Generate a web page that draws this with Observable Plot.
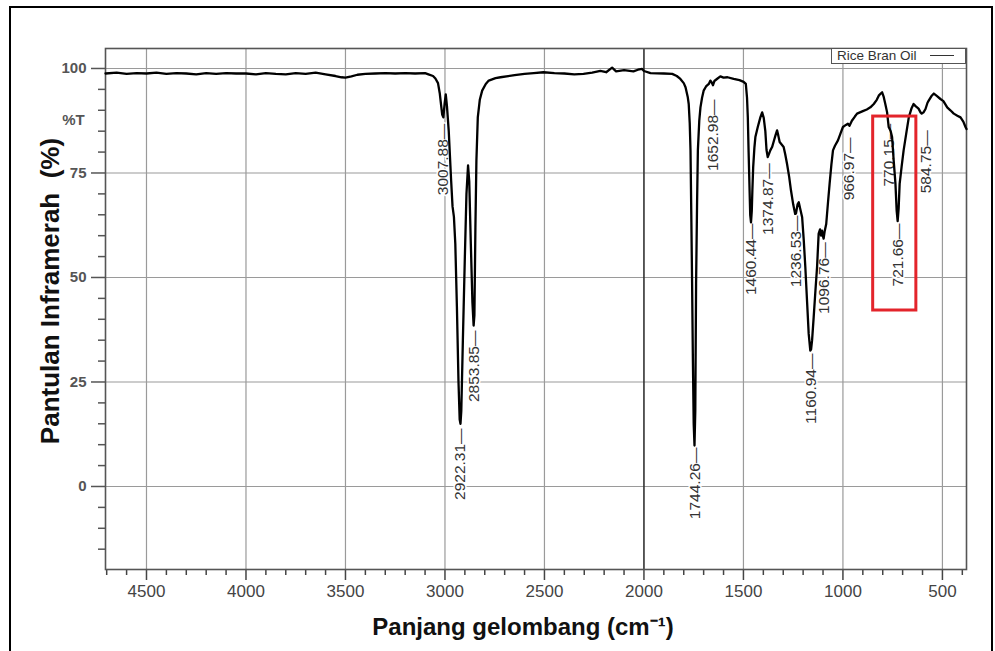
<!DOCTYPE html>
<html>
<head>
<meta charset="utf-8">
<script src="https://cdn.jsdelivr.net/npm/d3@7"></script>
<script src="https://cdn.jsdelivr.net/npm/@observablehq/plot@0.6"></script>
<style>
  body { margin: 0; background: #fff; }
  #wrap { position: relative; width: 995px; height: 651px; overflow: hidden; font-family: "Liberation Sans", Arial, sans-serif; }
  #border { position: absolute; left: 9px; top: 6px; width: 984px; height: 720px; border: 2.5px solid #000; box-sizing: border-box; pointer-events: none; }
  #legend { position: absolute; left: 831px; top: 48px; width: 135px; height: 16px; box-sizing: border-box; border: 1.5px solid #555; background: #fff; }
  #legend span { position: absolute; left: 5px; top: -1px; font-size: 13.5px; color: #333; white-space: nowrap; }
  #legend i { position: absolute; left: 98px; top: 6px; width: 24px; height: 0; border-top: 1.5px solid #333; }
</style>
</head>
<body>
<div id="wrap">
  <div id="chart"></div>
  <div id="legend"><span>Rice Bran Oil</span><i></i></div>
  <div id="border"></div>
</div>
<script>
// ---- Data ----
const wavenumber = [
  4706, 4650, 4600, 4550, 4500, 4450, 4400, 4350, 4300, 4250, 4200, 4150, 4100, 4050, 4000,
  3950, 3900, 3850, 3800, 3750, 3700, 3650, 3600, 3550, 3520, 3500, 3470, 3440, 3400, 3350,
  3300, 3250, 3200, 3150, 3100, 3083, 3060, 3048, 3035, 3026, 3020, 3014, 3008, 3002, 2996,
  2990, 2981, 2969, 2962, 2955, 2948, 2940, 2932, 2926, 2922, 2918, 2910, 2900, 2892, 2884,
  2878, 2870, 2862, 2856, 2852, 2847, 2842, 2835, 2825, 2813, 2795, 2780, 2746, 2721, 2650,
  2600, 2554, 2505, 2450, 2400, 2350, 2304, 2260, 2219, 2190, 2160, 2140, 2100, 2053, 2030,
  2009, 2000, 1967, 1900, 1858, 1835, 1817, 1800, 1791, 1780, 1775, 1770, 1766, 1762, 1758,
  1754, 1750, 1746, 1742, 1738, 1733, 1729, 1722, 1716, 1708, 1700, 1688, 1674, 1666, 1660,
  1653, 1646, 1630, 1616, 1600, 1580, 1549, 1520, 1499, 1488, 1482, 1478, 1474, 1470, 1466,
  1462, 1458, 1455, 1451, 1445, 1440, 1428, 1415, 1406, 1398, 1390, 1384, 1378, 1372, 1365,
  1356, 1345, 1339, 1331, 1325, 1318, 1308, 1298, 1290, 1281, 1270, 1261, 1250, 1240, 1236,
  1228, 1222, 1215, 1205, 1197, 1189, 1180, 1172, 1164, 1160, 1155, 1147, 1138, 1130, 1122,
  1115, 1110, 1105, 1100, 1097, 1092, 1084, 1075, 1067, 1058, 1050, 1040, 1025, 1012, 1000,
  985, 975, 967, 955, 940, 929, 900, 880, 862, 845, 830, 820, 810, 803, 795,
  787, 778, 770, 765, 760, 753, 745, 736, 730, 725, 720, 715, 705, 695, 680,
  669, 655, 645, 635, 620, 610, 604, 595, 585, 575, 569, 555, 543, 530, 510,
  495, 476, 460, 443, 425, 409, 395, 384, 379
];
const transmittance = [
  98.8, 99.0, 98.7, 98.9, 98.8, 99.0, 98.7, 98.9, 98.8, 98.6, 98.9, 98.7, 98.9, 98.8, 98.8,
  98.6, 98.9, 98.7, 98.6, 98.9, 98.7, 99.0, 98.6, 98.2, 97.9, 97.8, 98.1, 98.5, 98.7, 98.8,
  98.9, 98.8, 98.9, 98.8, 98.9, 98.6, 98.2, 97.6, 96.5, 94.0, 91.5, 89.0, 88.3, 91.5, 93.8,
  91.0, 85.0, 73.2, 67.0, 64.5, 58.0, 43.0, 25.0, 16.0, 15.0, 18.0, 35.0, 55.0, 70.0, 76.8,
  73.0, 58.0, 44.0, 38.5, 41.0, 62.0, 78.0, 88.3, 92.5, 94.7, 96.3, 97.1, 97.7, 97.9, 98.4,
  98.7, 98.9, 99.1, 98.9, 98.8, 98.6, 98.7, 99.0, 99.4, 99.1, 100.2, 99.3, 99.6, 99.3, 99.7,
  99.9, 99.4, 98.9, 98.8, 98.7, 98.2, 97.5, 96.5, 95.5, 93.2, 91.5, 87.0, 80.4, 65.0, 48.5,
  30.0, 15.0, 9.8, 18.0, 48.5, 68.0, 80.4, 87.5, 90.7, 93.0, 94.7, 95.7, 96.3, 97.1, 96.7,
  96.0, 97.0, 97.6, 98.1, 97.8, 97.9, 97.5, 97.2, 96.8, 96.3, 93.0, 88.3, 80.0, 72.5, 65.0,
  63.2, 66.0, 71.0, 76.4, 81.0, 83.6, 86.0, 88.3, 89.5, 88.2, 85.0, 80.5, 78.8, 79.5, 80.4,
  81.2, 83.0, 84.0, 85.2, 84.0, 82.4, 81.8, 81.2, 79.5, 77.2, 74.0, 70.8, 67.5, 65.2, 65.3,
  67.5, 68.0, 66.5, 64.4, 59.0, 52.5, 44.0, 36.5, 32.5, 32.8, 35.0, 40.5, 47.0, 52.5, 60.5,
  61.5, 60.0, 61.2, 59.8, 59.3, 61.0, 62.8, 68.0, 72.4, 77.0, 80.4, 81.5, 82.8, 84.5, 86.0,
  86.5, 86.8, 86.3, 87.5, 88.5, 89.2, 89.8, 90.2, 90.7, 91.5, 92.5, 93.5, 94.0, 94.3, 93.2,
  91.5, 89.5, 86.0, 85.5, 85.0, 83.6, 78.0, 72.4, 66.0, 63.5, 66.5, 72.4, 76.5, 80.4, 85.0,
  88.3, 90.5, 91.5, 91.0, 90.4, 89.5, 89.2, 89.5, 90.3, 91.8, 92.3, 93.4, 94.0, 93.5, 92.7,
  92.2, 90.7, 90.0, 89.2, 88.7, 88.3, 87.3, 86.0, 85.5
];

// Peak labels and the %T level where each leader line starts
const peakLabels = ["3007.88", "2922.31", "2853.85", "1744.26", "1652.98", "1460.44", "1374.87",
                    "1236.53", "1160.94", "1096.76", "966.97", "770.15", "721.66", "584.75"];
const peakLabelTop = [86.8, 13.9, 37.3, 9.3, 92.6, 62.9, 77.3, 64.8, 31.8, 58.4, 83.5, 86.8, 62.9, 85.2];

// Highlight box (wavenumber / %T extents)
const boxWavenumber = [848, 631];
const boxTransmittance = [42.1, 88.5];

// Axis ticks
const xMajorTicks = [4500, 4000, 3500, 3000, 2500, 2000, 1500, 1000, 500];
const xMinorTicks = [4700, 4600, 4400, 4300, 4200, 4100, 3900, 3800, 3700, 3600, 3400, 3300, 3200, 3100,
                     2900, 2800, 2700, 2600, 2400, 2300, 2200, 2100, 1900, 1800, 1700, 1600,
                     1400, 1300, 1200, 1100, 900, 800, 700, 600, 400];
const yMajorTicks = [0, 25, 50, 75, 100];
const yMinorTicks = [-15, -10, -5, 5, 10, 15, 20, 30, 35, 40, 45, 55, 60, 65, 70, 80, 85, 90, 95];

const xTitle = "Panjang gelombang (cm\u207B\u00B9)";
const yTitle = "Pantulan Inframerah  (%)";
const yUnit = "%T";

const spectrum = wavenumber.map((w, i) => ({w, t: transmittance[i]}));
const peaks = peakLabels.map((l, i) => ({w: +l, top: peakLabelTop[i], label: l + "\u2014"}));
const box = [{x1: boxWavenumber[0], x2: boxWavenumber[1], y1: boxTransmittance[0], y2: boxTransmittance[1]}];

const chart = Plot.plot({
  width: 995,
  height: 651,
  marginLeft: 105,
  marginRight: 29,
  marginTop: 48,
  marginBottom: 82,
  style: {fontFamily: "'Liberation Sans', Arial, sans-serif", background: "#fff", overflow: "visible"},
  x: {domain: [4706, 379]},
  y: {domain: [-19.86, 104.78]},
  marks: [
    Plot.gridX(xMajorTicks.filter(d => d !== 2000), {stroke: "#9a9a9a", strokeOpacity: 1, strokeWidth: 1.2}),
    Plot.gridY(yMajorTicks, {stroke: "#9a9a9a", strokeOpacity: 1, strokeWidth: 1.2}),
    Plot.ruleX([2000], {stroke: "#333", strokeWidth: 1.6}),
    Plot.axisX(xMajorTicks, {tickSize: 11, tickPadding: 4, fontSize: 17, color: "#444", label: null, strokeWidth: 1.5, tickFormat: d => String(d)}),
    Plot.axisX(xMinorTicks, {tickSize: 6, tickFormat: () => "", label: null, color: "#444", strokeWidth: 1.5}),
    Plot.axisY(yMajorTicks, {tickSize: 14, tickPadding: 5, fontSize: 15, fontWeight: "bold", color: "#555", label: null, strokeWidth: 1.5, tickFormat: d => String(d)}),
    Plot.axisY(yMinorTicks, {tickSize: 7, tickFormat: () => "", label: null, color: "#555", strokeWidth: 1.5}),
    Plot.frame({stroke: "#555", strokeWidth: 1.6}),
    Plot.text(peaks, {x: "w", y: "top", text: "label", rotate: -90, textAnchor: "end", fontSize: 15.5,
                      fill: "#333", stroke: "white", strokeWidth: 3}),
    Plot.line(spectrum, {x: "w", y: "t", stroke: "#000", strokeWidth: 2.3, strokeLinejoin: "round"}),
    Plot.rect(box, {x1: "x1", x2: "x2", y1: "y1", y2: "y2", fill: "none", stroke: "#e3242b", strokeWidth: 3}),
    Plot.text([yUnit], {frameAnchor: "top-left", textAnchor: "middle", lineAnchor: "middle", dx: -32, dy: 72, fontSize: 15, fontWeight: "bold", fill: "#555"}),
    Plot.text([xTitle], {frameAnchor: "bottom", textAnchor: "middle", lineAnchor: "middle", dx: -13, dy: 58, fontSize: 24, fontWeight: "bold", fill: "#111"}),
    Plot.text([yTitle], {frameAnchor: "left", textAnchor: "middle", lineAnchor: "middle", dx: -55, dy: -18, rotate: -90, fontSize: 26, fontWeight: "bold", fill: "#111"})
  ]
});
document.getElementById("chart").appendChild(chart);
</script>
</body>
</html>
